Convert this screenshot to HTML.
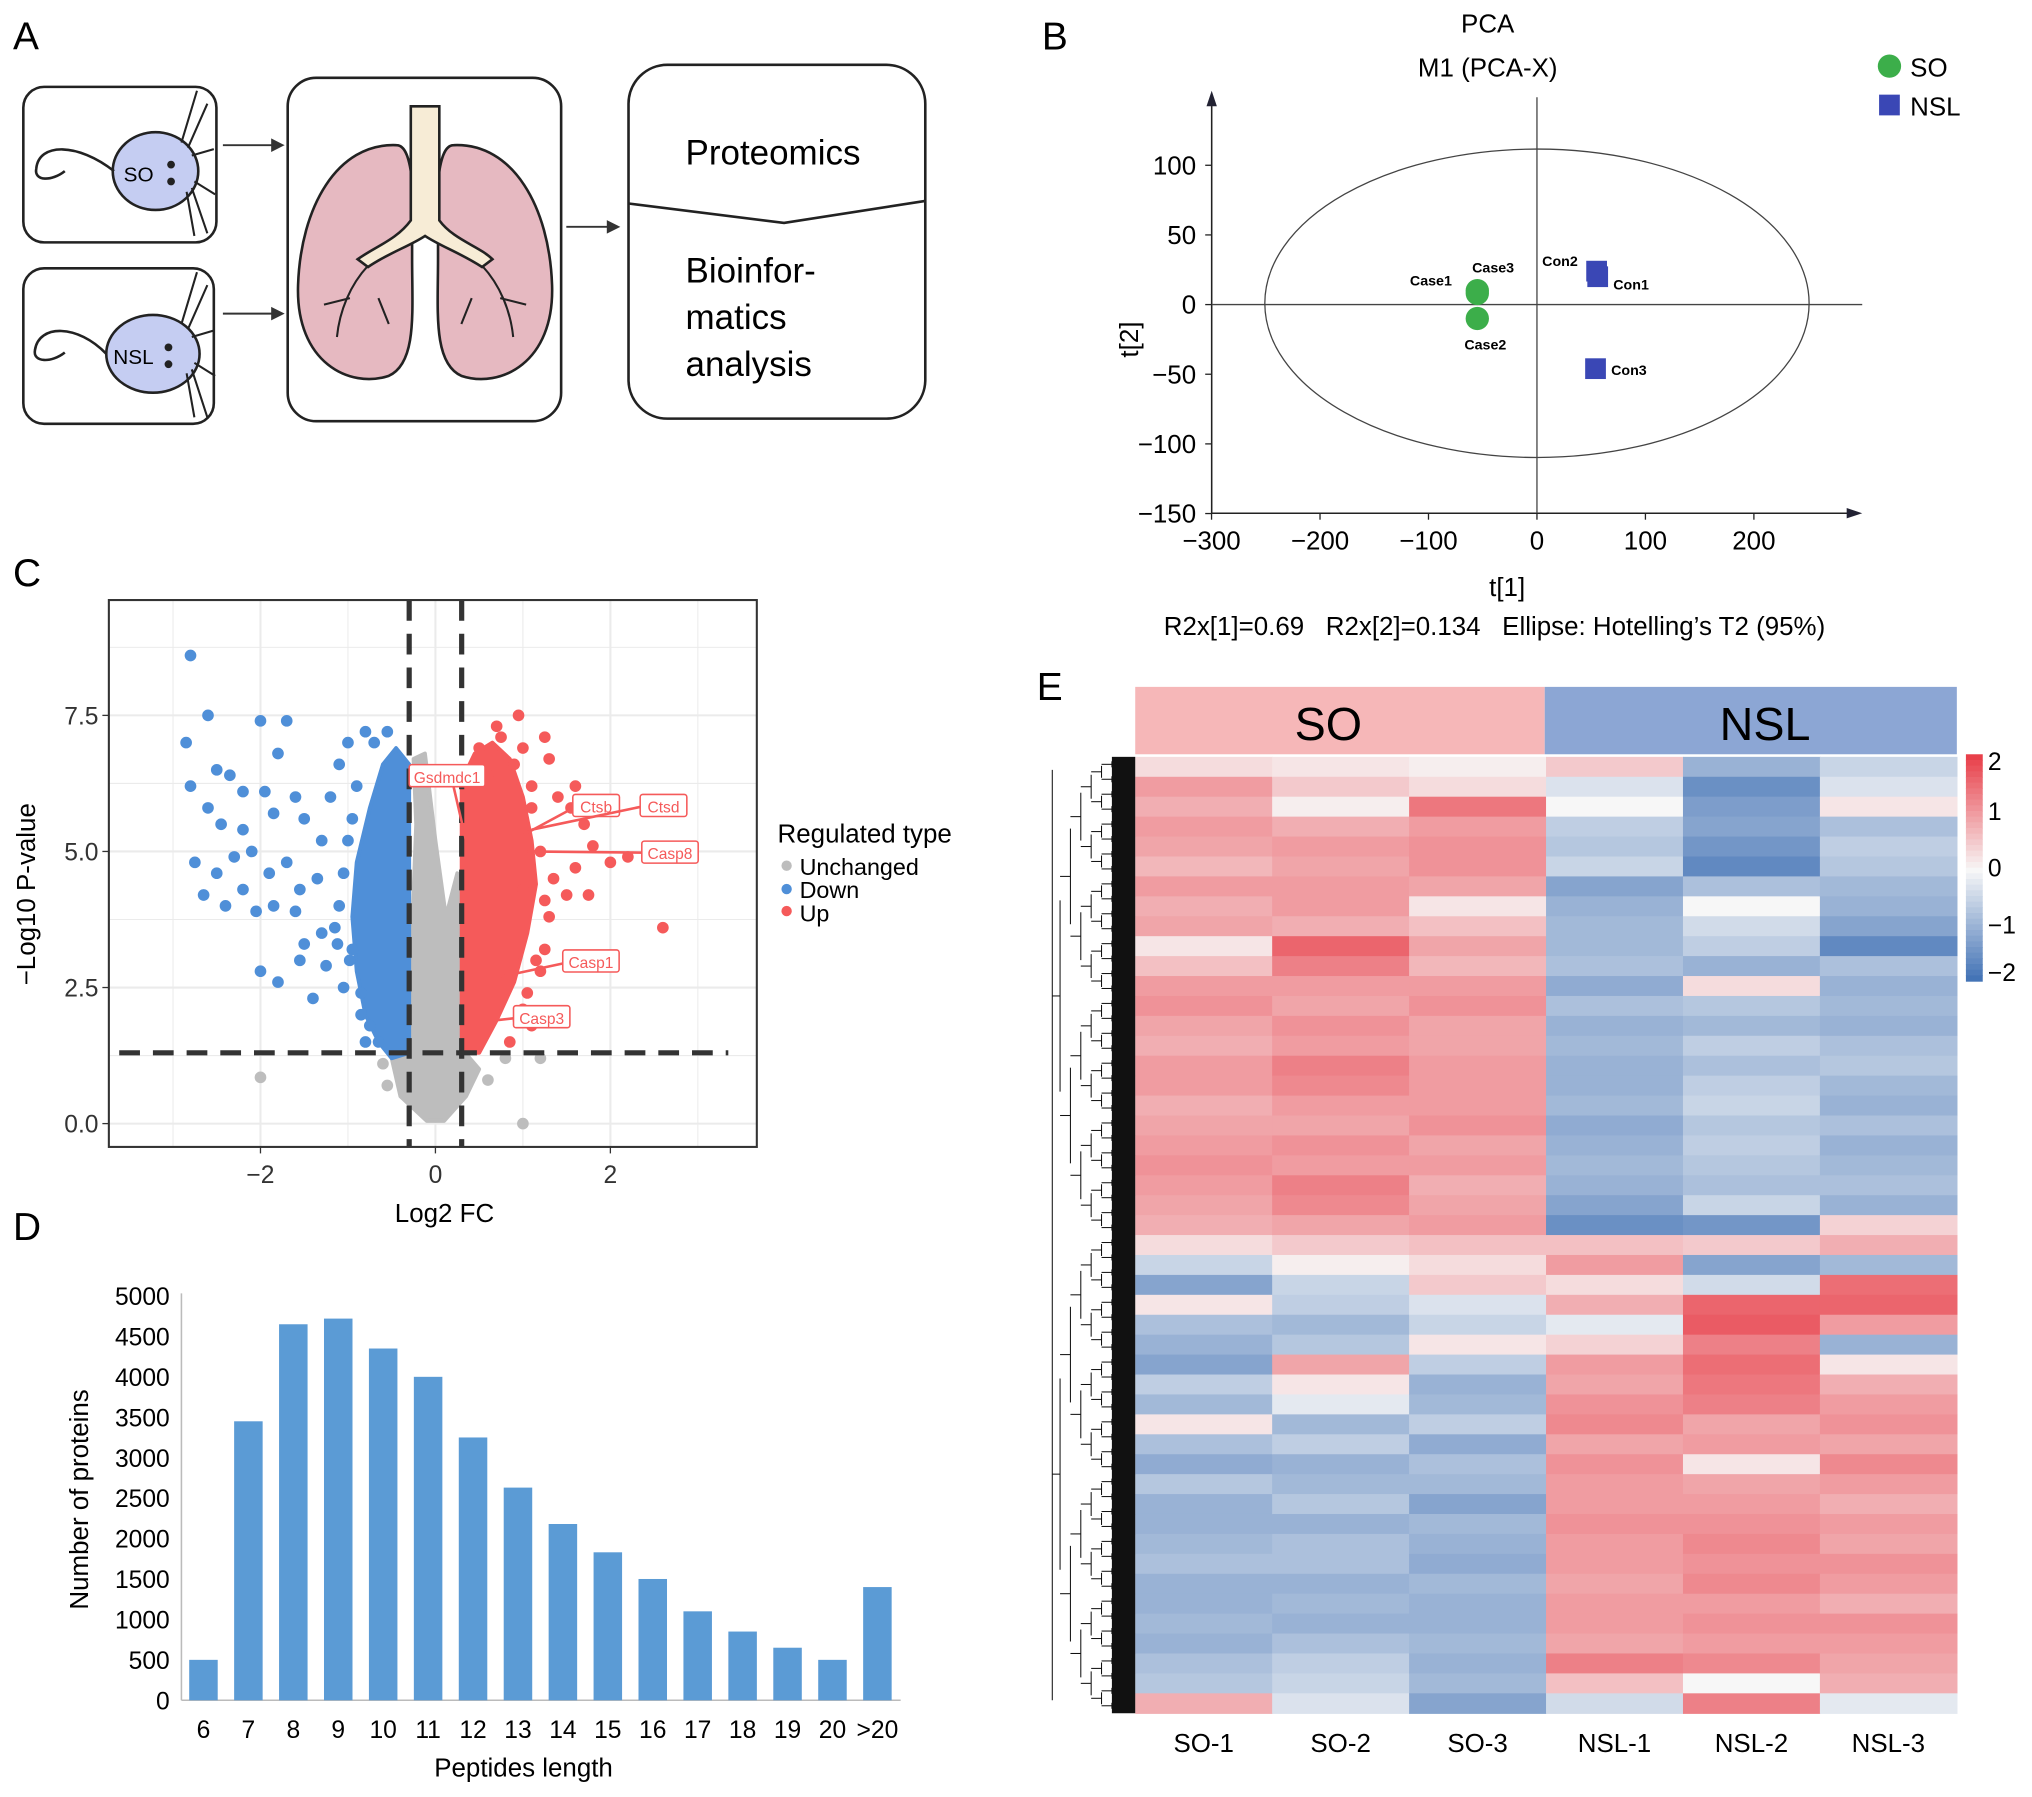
<!DOCTYPE html>
<html><head><meta charset="utf-8"><style>
html,body{margin:0;padding:0;background:#fff;}
svg{display:block;font-family:"Liberation Sans",sans-serif;}
</style></head><body>
<svg id="fig" width="2032" height="1797" viewBox="0 0 1568 1386.6" xmlns="http://www.w3.org/2000/svg">
<!-- Panel A -->
<g>
<text x="10" y="38" font-size="30">A</text>
<rect x="18" y="67" width="149" height="120" rx="16" fill="none" stroke="#222" stroke-width="2"/>
<rect x="18" y="207" width="147" height="120" rx="16" fill="none" stroke="#222" stroke-width="2"/>
<g>
<ellipse cx="120" cy="132" rx="33" ry="30" fill="#c5cdf2" stroke="#222" stroke-width="2"/>
<path d="M88,132 C60,110 30,110 28,130 C26,140 40,140 50,132" fill="none" stroke="#222" stroke-width="2"/>
<path d="M140,110 L152,70 M145,114 L160,80 M148,120 L165,115 M148,145 L160,180 M144,148 L150,182 M150,140 L166,150" stroke="#222" stroke-width="1.6"/>
<circle cx="132" cy="127" r="3" fill="#222"/><circle cx="132" cy="140" r="3" fill="#222"/>
<text x="107" y="140" font-size="16" text-anchor="middle">SO</text></g>
<g>
<ellipse cx="118" cy="273" rx="36" ry="30" fill="#c5cdf2" stroke="#222" stroke-width="2"/>
<path d="M82,273 C60,250 30,250 27,270 C25,280 40,280 50,272" fill="none" stroke="#222" stroke-width="2"/>
<path d="M140,250 L152,210 M145,254 L160,220 M148,260 L165,255 M148,285 L160,322 M144,288 L150,322 M150,280 L166,290" stroke="#222" stroke-width="1.6"/>
<circle cx="130" cy="268" r="3" fill="#222"/><circle cx="130" cy="281" r="3" fill="#222"/>
<text x="103" y="281" font-size="16" text-anchor="middle">NSL</text></g>
<g stroke="#333" stroke-width="1.5" fill="#333">
<line x1="172" y1="112" x2="214" y2="112"/><path d="M218,112 L210,108 L210,116Z"/>
<line x1="172" y1="242" x2="214" y2="242"/><path d="M218,242 L210,238 L210,246Z"/>
<line x1="437" y1="175" x2="472" y2="175"/><path d="M477,175 L469,171 L469,179Z"/></g>
<rect x="222" y="60" width="211" height="265" rx="22" fill="none" stroke="#222" stroke-width="2"/>
<g>
<path d="M306,112 C260,110 232,160 230,220 C228,280 270,300 300,290 C322,280 318,240 318,200 L318,140 C316,120 312,112 306,112Z" fill="#e6b9c1" stroke="#222" stroke-width="2"/>
<path d="M350,112 C396,110 424,160 426,220 C428,280 386,300 356,290 C334,280 338,240 338,200 L338,140 C340,120 344,112 350,112Z" fill="#e6b9c1" stroke="#222" stroke-width="2"/>
<path d="M317,82 L339,82 L339,170 C350,185 370,190 380,200 L372,206 C355,195 340,190 328,182 C316,190 300,195 284,206 L276,200 C290,190 306,185 317,170Z" fill="#f7ecd6" stroke="#222" stroke-width="2"/>
<path d="M284,205 C270,220 262,240 260,260 M270,230 L250,235 M292,230 L300,250 M372,205 C386,220 394,240 396,260 M386,230 L406,235 M364,230 L356,250" fill="none" stroke="#222" stroke-width="1.6"/></g>
<rect x="485" y="50" width="229" height="273" rx="30" fill="none" stroke="#222" stroke-width="2"/>
<path d="M485,157 L605,172 L714,155" fill="none" stroke="#222" stroke-width="2"/>
<text x="529" y="127" font-size="27">Proteomics</text>
<text font-size="27"><tspan x="529" y="218">Bioinfor-</tspan><tspan x="529" y="254">matics</tspan><tspan x="529" y="290">analysis</tspan></text>
</g>
<!-- Panel B -->
<g id="pca">
<text x="804" y="38" font-size="30">B</text>
<text x="1148" y="25" font-size="20" text-anchor="middle">PCA</text>
<text x="1148" y="59" font-size="20" text-anchor="middle">M1 (PCA-X)</text>
<circle cx="1458" cy="51" r="9" fill="#3cae4a"/>
<text x="1474" y="59" font-size="20">SO</text>
<rect x="1450" y="73" width="16" height="16" fill="#3a47b5"/>
<text x="1474" y="89" font-size="20">NSL</text>
<text x="1163" y="460" font-size="20" text-anchor="middle">t[1]</text>
<text transform="translate(878,262) rotate(-90)" font-size="20" text-anchor="middle">t[2]</text>
<text x="898" y="490" font-size="20">R2x[1]=0.69 &#160; R2x[2]=0.134 &#160; Ellipse: Hotelling’s T2 (95%)</text>
</g>
<!-- Panel C -->
<g id="volcano">
<text x="10" y="452" font-size="30">C</text>
<text x="343" y="943" font-size="20" text-anchor="middle">Log2 FC</text>
<text transform="translate(27,690) rotate(-90)" font-size="20" text-anchor="middle">−Log10 P-value</text>
<text x="600" y="650" font-size="20">Regulated type</text>
<circle cx="607" cy="668" r="4" fill="#bdbdbd"/><text x="617" y="675" font-size="18">Unchanged</text>
<circle cx="607" cy="686" r="4" fill="#4f8fd8"/><text x="617" y="693" font-size="18">Down</text>
<circle cx="607" cy="703" r="4" fill="#f55a5a"/><text x="617" y="711" font-size="18">Up</text>
</g>
<!-- Panel D -->
<g id="bars">
<text x="10" y="957" font-size="30">D</text>
<text x="404" y="1371" font-size="20" text-anchor="middle">Peptides length</text>
<text transform="translate(68,1157) rotate(-90)" font-size="20" text-anchor="middle">Number of proteins</text>
</g>
<!-- Panel E -->
<g id="heat">
<text x="800" y="540" font-size="30">E</text>
<rect x="876" y="530" width="316" height="52" fill="#f6b7b8"/>
<rect x="1192" y="530" width="318" height="52" fill="#8ca6d4"/>
<text x="1025" y="571" font-size="36" text-anchor="middle">SO</text>
<text x="1362" y="571" font-size="36" text-anchor="middle">NSL</text>
</g>
</svg>
<script>
const NS="http://www.w3.org/2000/svg";
function mk(p,tag,attrs,txt){const e=document.createElementNS(NS,tag);for(const k in attrs)e.setAttribute(k,attrs[k]);if(txt!==undefined)e.textContent=txt;p.appendChild(e);return e;}

// ---------- PCA data ----------
const pcaLabels=["Case1","Case3","Case2","Con2","Con1","Con3"];
const pcaT1=[-55,-55,-55,55,56,54];
const pcaT2=[8,10,-10,24,20,-46];
const pcaGroup=["SO","SO","SO","NSL","NSL","NSL"];
const pcaXTicks=[-300,-200,-100,0,100,200];
const pcaYTicks=[100,50,0,-50,-100,-150];
(function(){
const g=document.getElementById('pca');
const px=v=>1186+v*0.837, py=v=>235-v*1.075;
let e=mk(g,'line',{x1:935,y1:75,x2:935,y2:396,stroke:'#222','stroke-width':1.2});

mk(g,'path',{d:'M935,70 L931,82 L939,82Z',fill:'#223'});
e=mk(g,'line',{x1:935,y1:396,x2:1432,y2:396,stroke:'#222','stroke-width':1.2});

mk(g,'path',{d:'M1437,396 L1425,392 L1425,400Z',fill:'#223'});
mk(g,'line',{x1:px(0),y1:75,x2:px(0),y2:396,stroke:'#444','stroke-width':1});
mk(g,'line',{x1:935,y1:py(0),x2:1437,y2:py(0),stroke:'#444','stroke-width':1});
e=mk(g,'ellipse',{cx:px(0),cy:py(0)-1,rx:210,ry:119,fill:'none',stroke:'#444','stroke-width':1});

pcaXTicks.forEach(t=>{mk(g,'line',{x1:px(t),y1:396,x2:px(t),y2:401,stroke:'#222'});
 e=mk(g,'text',{x:px(t),y:424,'font-size':20,'text-anchor':'middle'},t<0?'−'+(-t):String(t));
 });
pcaYTicks.forEach(t=>{mk(g,'line',{x1:930,y1:py(t),x2:935,y2:py(t),stroke:'#222'});
 e=mk(g,'text',{x:923,y:py(t)+7,'font-size':20,'text-anchor':'end'},t<0?'−'+(-t):String(t));
 });
const lo={Case1:[-52,-6],Case3:[-4,-14],Case2:[-10,24],Con2:[-42,-4],Con1:[12,10],Con3:[12,5]};
pcaLabels.forEach((l,i)=>{const x=px(pcaT1[i]),y=py(pcaT2[i]);
 if(pcaGroup[i]==="SO"){e=mk(g,'circle',{cx:x,cy:y,r:9,fill:'#3cae4a'});}
 else{e=mk(g,'rect',{x:x-8,y:y-8,width:16,height:16,fill:'#3a47b5'});}
 
 const t=mk(g,'text',{x:x+lo[l][0],y:y+lo[l][1],'font-size':11,'font-weight':'bold'},l);
 });
})();

// ---------- Volcano data ----------
const downX=[-2.8,-2.85,-2.6,-2.0,-2.8,-1.7,-2.5,-2.35,-2.2,-1.8,-1.95,-2.6,-2.45,-2.2,-1.85,-1.6,-1.5,-2.75,-2.5,-2.3,-2.1,-1.9,-1.7,-1.55,-2.65,-2.4,-2.2,-2.05,-1.85,-1.6,-1.35,-1.3,-1.2,-1.1,-1.0,-0.8,-0.55,-2.0,-1.8,-1.5,-1.3,-1.25,-1.05,-0.95,-0.85,-0.8,-1.55,-1.4,-1.1,-0.7,-0.95,-1.15,-1.05,-1.0,-0.98,-1.12,-0.9,-0.85,-0.75,-0.65];
const downY=[8.6,7.0,7.5,7.4,6.2,7.4,6.5,6.4,6.1,6.8,6.1,5.8,5.5,5.4,5.7,6.0,5.6,4.8,4.6,4.9,5.0,4.6,4.8,4.3,4.2,4.0,4.3,3.9,4.0,3.9,4.5,5.2,6.0,6.6,7.0,7.2,7.2,2.8,2.6,3.3,3.5,2.9,2.5,3.2,2.0,1.5,3.0,2.3,4.0,7.0,5.6,3.6,4.6,5.2,3.0,3.3,6.2,2.4,1.8,1.5];
const downCoreX=[-0.3,-0.3,-0.45,-0.6,-0.75,-0.9,-0.95,-0.9,-0.8,-0.65,-0.5];
const downCoreY=[1.3,6.6,6.9,6.6,5.8,4.8,3.8,2.8,2.0,1.5,1.2];
const upX=[0.95,1.25,0.7,1.0,1.3,0.9,1.6,1.4,1.7,1.55,1.8,1.6,2.0,2.2,2.6,1.5,1.3,1.2,1.05,0.95,0.85,1.25,1.35,1.1,1.0,0.6,0.5,1.75,1.1,0.75,1.2,1.25,1.15,1.1,1.0];
const upY=[7.5,7.1,7.3,6.9,6.7,6.6,6.2,6.0,5.5,5.8,5.1,4.7,4.8,4.9,3.6,4.2,3.8,2.8,2.4,1.9,1.5,3.2,4.5,5.8,4.3,6.4,6.9,4.2,1.8,7.1,5.0,4.1,3.0,6.2,2.1];
const upCoreX=[0.3,0.3,0.45,0.65,0.85,1.0,1.1,1.15,1.05,0.9,0.7,0.5];
const upCoreY=[1.3,6.3,6.8,7.0,6.7,6.0,5.2,4.4,3.5,2.6,1.9,1.3];
const grayCoreX=[-0.1,-0.4,-0.5,-0.3,-0.28,-0.22,-0.25,-0.12,0.0,0.12,0.25,0.32,0.34,0.5,0.35,0.1];
const grayCoreY=[0.05,0.5,1.2,1.5,3.0,5.5,6.7,6.8,5.2,3.8,4.6,4.0,1.3,1.0,0.5,0.05];
const grayX=[-2.0,1.0,1.2,0.8,-0.55,-0.6,0.6];
const grayY=[0.85,0.0,1.2,1.2,0.7,1.1,0.8];
const volXTicks=[-2,0,2];
const volYTicks=[0,2.5,5,7.5];
const volLabels=["Gsdmdc1","Ctsb","Ctsd","Casp8","Casp1","Casp3"];
const volLabelFC=[0.35,1.0,1.1,1.05,0.75,0.7];
const volLabelP=[5.2,5.3,5.4,5.0,2.7,1.9];
(function(){
const g=document.getElementById('volcano');
const X=v=>336+v*67.5, Y=v=>867-v*42;
let e=mk(g,'rect',{x:84,y:463,width:500,height:422,fill:'#fff'});
for(let v=-3;v<=3;v++){mk(g,'line',{x1:X(v),y1:463,x2:X(v),y2:885,stroke:'#ebebeb','stroke-width':v%2===0?1.6:0.8});}
for(let v=0;v<=8.75;v+=1.25){mk(g,'line',{x1:84,y1:Y(v),x2:584,y2:Y(v),stroke:'#ebebeb','stroke-width':(v%2.5===0)?1.6:0.8});}
const poly=(xs,ys,col,name)=>{const p=mk(g,'polygon',{points:xs.map((x,i)=>X(x)+','+Y(ys[i])).join(' '),fill:col,stroke:col,'stroke-width':3,'stroke-linejoin':'round'});
 };
poly(grayCoreX,grayCoreY,'#bdbdbd','unchanged-cloud');
poly(downCoreX,downCoreY,'#4f8fd8','down-cloud');
poly(upCoreX,upCoreY,'#f55a5a','up-cloud');
grayX.forEach((x,i)=>{e=mk(g,'circle',{cx:X(x),cy:Y(grayY[i]),r:4.5,fill:'#bdbdbd'});
 });
downX.forEach((x,i)=>{e=mk(g,'circle',{cx:X(x),cy:Y(downY[i]),r:4.5,fill:'#4f8fd8'});
 });
upX.forEach((x,i)=>{e=mk(g,'circle',{cx:X(x),cy:Y(upY[i]),r:4.5,fill:'#f55a5a'});
 });
[-0.3,0.3].forEach(v=>{e=mk(g,'line',{x1:X(v),y1:463,x2:X(v),y2:885,stroke:'#333','stroke-width':4,'stroke-dasharray':'16,10'});
 });
e=mk(g,'line',{x1:92,y1:Y(1.3),x2:562,y2:Y(1.3),stroke:'#333','stroke-width':4,'stroke-dasharray':'16,10'});

const lp=[[345,599],[460,622],[512,622],[517,658],[456,742],[418,785]];
volLabels.forEach((l,i)=>{const lx=lp[i][0],ly=lp[i][1];
 mk(g,'line',{x1:X(volLabelFC[i]),y1:Y(volLabelP[i]),x2:lx-(i===0?-5:15),y2:ly+(i===0?8:0),stroke:'#f55a5a','stroke-width':2});
 const w=l.length*7.5+6;
 mk(g,'rect',{x:lx-w/2,y:ly-9,width:w,height:17,rx:2,fill:'#fff',stroke:'#f55a5a','stroke-width':1.2});
 e=mk(g,'text',{x:lx,y:ly+5,'font-size':12,'text-anchor':'middle',fill:'#f55a5a'},l);
 });
e=mk(g,'rect',{x:84,y:463,width:500,height:422,fill:'none',stroke:'#333','stroke-width':1.6});

volXTicks.forEach(t=>{mk(g,'line',{x1:X(t),y1:885,x2:X(t),y2:890,stroke:'#333'});
 e=mk(g,'text',{x:X(t),y:913,'font-size':19,'text-anchor':'middle',fill:'#333'},t<0?'−'+(-t):String(t));
 });
volYTicks.forEach(t=>{mk(g,'line',{x1:79,y1:Y(t),x2:84,y2:Y(t),stroke:'#333'});
 e=mk(g,'text',{x:76,y:Y(t)+7,'font-size':19,'text-anchor':'end',fill:'#333'},t.toFixed(1));
 });
})();

// ---------- Bar data ----------
const barCats=["6","7","8","9","10","11","12","13","14","15","16","17","18","19","20",">20"];
const barVals=[500,3450,4650,4720,4350,4000,3250,2630,2180,1830,1500,1100,850,650,500,1400];
const barYTicks=[0,500,1000,1500,2000,2500,3000,3500,4000,4500,5000];
(function(){
const g=document.getElementById('bars');
const Y=v=>1312-v*0.0624, X=i=>157+i*34.67;
let e=mk(g,'line',{x1:140,y1:998,x2:140,y2:1312,stroke:'#bbb','stroke-width':1.2});

e=mk(g,'line',{x1:140,y1:1312,x2:695,y2:1312,stroke:'#bbb','stroke-width':1.2});

barYTicks.forEach(t=>{e=mk(g,'text',{x:131,y:Y(t)+7,'font-size':19,'text-anchor':'end'},String(t));
 });
barCats.forEach((c,i)=>{e=mk(g,'rect',{x:X(i)-11,y:Y(barVals[i]),width:22,height:1312-Y(barVals[i]),fill:'#5b9bd5'});
 
 e=mk(g,'text',{x:X(i),y:1341,'font-size':19,'text-anchor':'middle'},c);
 });
})();

// ---------- Heatmap data ----------
const heatCols=["SO-1","SO-2","SO-3","NSL-1","NSL-2","NSL-3"];
const so1=[0.3,1,0.8,1,0.9,0.7,1,0.8,0.9,0.2,0.6,1,1.1,0.9,0.8,1,1,0.8,0.9,1,1.1,1,0.9,0.8,0.3,-0.5,-1.2,0.2,-0.8,-1,-1.2,-0.6,-0.9,0.2,-0.8,-1.1,-0.7,-1,-1,-0.9,-0.8,-1,-1,-0.9,-1,-0.8,-0.7,0.8];
const so2=[0.2,0.5,0.1,0.8,1,0.9,1,1,0.8,1.6,1.3,1,0.9,1.1,1,1.3,1.2,1,0.9,1.1,1,1.3,1.2,0.9,0.5,0.1,-0.5,-0.6,-0.9,-0.7,0.9,0.2,-0.2,-0.9,-0.6,-1,-0.9,-0.7,-1,-0.8,-0.8,-1,-0.9,-1,-0.8,-0.6,-0.5,-0.3];
const so3=[0.1,0.3,1.4,1,1.1,1.1,0.9,0.2,0.6,0.9,0.7,1,1.1,0.9,0.9,1,1,1,1.1,0.9,1,0.8,0.9,1,0.6,0.3,0.5,-0.3,-0.5,0.2,-0.6,-1,-0.9,-0.6,-1.1,-0.8,-0.9,-1.2,-0.9,-1,-1.1,-0.9,-1,-1,-0.9,-1,-0.9,-1.2];
const nsl1=[0.5,-0.3,0,-0.6,-0.7,-0.5,-1.2,-1,-0.9,-0.9,-0.8,-1.1,-0.8,-1,-0.9,-1,-1,-0.9,-1.1,-1,-0.9,-1,-1.2,-1.5,0.6,1,0.3,0.8,-0.2,0.4,1,0.9,1.1,1.2,0.9,1.1,1,1,1.1,1,1,0.9,1,1,0.9,1.3,0.6,-0.4];
const nsl2=[-1,-1.5,-1.3,-1.2,-1.4,-1.6,-0.8,0,-0.4,-0.6,-1,0.3,-0.7,-0.9,-0.6,-0.8,-0.6,-0.5,-0.7,-0.6,-0.7,-0.8,-0.5,-1.4,0.5,-1.2,-0.4,1.6,1.7,1.3,1.5,1.4,1.3,0.9,1,0.2,0.9,1,1.1,1.2,1.1,1.2,1,1.1,1,1.2,0,1.3];
const nsl3=[-0.5,-0.3,0.2,-0.8,-0.6,-0.7,-0.9,-1,-1.2,-1.6,-0.8,-1,-0.9,-1,-0.8,-0.7,-0.9,-1,-0.8,-1,-0.9,-0.8,-1,0.4,0.8,-0.9,1.5,1.6,1,-1,0.2,0.8,1,1.1,0.9,1.2,1,0.8,1,0.9,1.1,1,0.8,1.1,1,0.9,0.8,-0.2];
const heatSeries=[so1,so2,so3,nsl1,nsl2,nsl3];
const cbTicks=[2,1,0,-1,-2];
(function(){
const g=document.getElementById('heat');
const x0=876,y0=584,W=634,H=738,cw=W/6;
const lerp=(a,b,t)=>a.map((v,i)=>Math.round(v+(b[i]-v)*t));
const col=v=>{v=Math.max(-2,Math.min(2,v));const r=[232,64,74],w=[247,247,247],b=[59,109,179];
 const c=v>=0?lerp(w,r,v/2):lerp(w,b,-v/2);return 'rgb('+c.join(',')+')';};
const n=so1.length,rh=H/n;
heatSeries.forEach((s,c)=>{s.forEach((v,r)=>{const e=mk(g,'rect',{x:x0+c*cw,y:y0+r*rh,width:cw+0.5,height:rh+0.5,fill:col(v)});
 });
 const t=mk(g,'text',{x:x0+(c+0.5)*cw,y:1352,'font-size':20,'text-anchor':'middle'},heatCols[c]);
 });
const d=mk(g,'g',{stroke:'#111','stroke-width':0.8,fill:'none'});

mk(d,'rect',{x:858,y:y0,width:18,height:H,fill:'#111',stroke:'none'});
mk(d,'line',{x1:812,y1:y0+10,x2:812,y2:y0+H-10});
const lv=[[812,2],[818,4],[826,8],[834,16],[842,32],[850,64]];
lv.forEach(([x,k],li)=>{for(let i=0;i<k;i++){const yc=y0+(i+0.5)*H/k;const half=H/k/2*0.8;
 mk(d,'line',{x1:x,y1:yc,x2:(lv[li+1]?lv[li+1][0]:858),y2:yc});
 mk(d,'line',{x1:lv[li+1]?lv[li+1][0]:858,y1:yc-half/2,x2:lv[li+1]?lv[li+1][0]:858,y2:yc+half/2});}});
const cb=mk(g,'g',{});
for(let i=0;i<40;i++){const v=2-i*0.1;mk(cb,'rect',{x:1517,y:582+i*175/40,width:13,height:175/40+0.5,fill:col(v)});}
cbTicks.forEach(t=>{const e=mk(cb,'text',{x:1534,y:582+(2-t)/4*175+ (t===2?12:t===-2?0:7),'font-size':19},t<0?'−'+(-t):String(t));
 });
})();
</script>
</body></html>
